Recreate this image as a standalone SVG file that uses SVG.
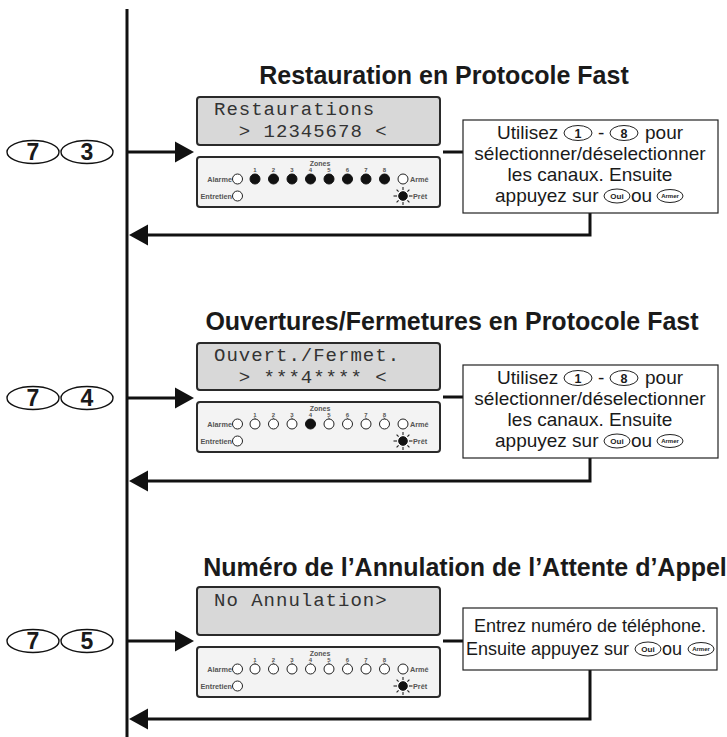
<svg xmlns="http://www.w3.org/2000/svg" xmlns:xlink="http://www.w3.org/1999/xlink" width="727" height="737" viewBox="0 0 727 737">
<style>
.title{font-family:"Liberation Sans",Arial,sans-serif;font-weight:bold;font-size:25px;fill:#1a1a1a;text-anchor:middle}
.key{fill:#fff;stroke:#111;stroke-width:1.4}
.keyt{font-family:"Liberation Sans",Arial,sans-serif;font-weight:bold;font-size:23px;fill:#1a1a1a;text-anchor:middle}
.lcd{fill:#d8d8d8;stroke:#2a2a2a;stroke-width:2}
.lcdt{font-family:"Liberation Mono","DejaVu Sans Mono",monospace;font-size:19px;letter-spacing:1px;fill:#333;white-space:pre}
.pan{fill:#f3f3f3;stroke:#2a2a2a;stroke-width:2}
.pl{font-family:"Liberation Sans",Arial,sans-serif;font-weight:bold;font-size:7.3px;fill:#555}
.pn{font-family:"Liberation Sans",Arial,sans-serif;font-weight:bold;font-size:6px;fill:#555;text-anchor:middle}
.off{fill:#fff;stroke:#222;stroke-width:1}
.on{fill:#111;stroke:#111;stroke-width:1}
.tick{stroke:#333;stroke-width:0.8}
.box{fill:#fff;stroke:#222;stroke-width:1.2}
.bt{font-family:"Liberation Sans",Arial,sans-serif;font-size:19px;fill:#1a1a1a}
.bt3{font-size:18px}
.c{text-anchor:middle}
.ik{fill:#fff;stroke:#222;stroke-width:1}
.ikt{font-family:"Liberation Sans",Arial,sans-serif;font-weight:bold;font-size:12.5px;fill:#1a1a1a;text-anchor:middle}
.ikm{font-family:"Liberation Sans",Arial,sans-serif;font-weight:bold;font-size:8px;fill:#1a1a1a;text-anchor:middle}
.iks{font-family:"Liberation Sans",Arial,sans-serif;font-weight:bold;font-size:6px;fill:#1a1a1a;text-anchor:middle}
.ln{fill:none;stroke:#111;stroke-width:3}
.ah{fill:#111}
</style>
<defs>
<g id="panelbase">
<rect class="pan" x="0" y="0" width="243" height="50" rx="3"/>
<text class="pn" x="123" y="8.5" style="font-size:7px">Zones</text>
<text class="pn" x="58" y="14.5">1</text>
<text class="pn" x="76.5" y="14.5">2</text>
<text class="pn" x="95" y="14.5">3</text>
<text class="pn" x="113.5" y="14.5">4</text>
<text class="pn" x="132" y="14.5">5</text>
<text class="pn" x="150.5" y="14.5">6</text>
<text class="pn" x="169" y="14.5">7</text>
<text class="pn" x="187.5" y="14.5">8</text>
<text class="pl" x="35" y="24.8" text-anchor="end">Alarme</text>
<circle class="off" cx="40.5" cy="22" r="5"/>
<text class="pl" x="35" y="41.8" text-anchor="end">Entretien</text>
<circle class="off" cx="40.5" cy="39" r="5"/>
<circle class="off" cx="206" cy="22" r="5"/>
<text class="pl" x="213" y="24.8">Armé</text>
<circle class="on" cx="206" cy="39" r="4.3"/>
<g stroke="#222" stroke-width="1.1">
<line x1="200" y1="39" x2="196.5" y2="39"/><line x1="212" y1="39" x2="215.5" y2="39"/>
<line x1="206" y1="33" x2="206" y2="30"/><line x1="206" y1="45" x2="206" y2="48"/>
<line x1="201.6" y1="34.6" x2="199.6" y2="32.6"/><line x1="210.4" y1="34.6" x2="212.4" y2="32.6"/>
<line x1="201.6" y1="43.4" x2="199.6" y2="45.4"/><line x1="210.4" y1="43.4" x2="212.4" y2="45.4"/>
</g>
<text class="pl" x="216" y="41.8">Prêt</text>
</g>
<g id="tk"><line class="tick" x1="-0.6" y1="15.5" x2="0.6" y2="17.2"/></g>
</defs>

<g id="connectors">
<line class="ln" x1="127" y1="9" x2="127" y2="737"/>
<line class="ln" x1="127" y1="152" x2="178" y2="152"/>
<polygon class="ah" points="175,141.5 194,152 175,162.5"/>
<line class="ln" x1="443" y1="152" x2="463" y2="152"/>
<polyline class="ln" points="590,213 590,235 146,235"/>
<polygon class="ah" points="148,224.5 129,235 148,245.5"/>

<line class="ln" x1="127" y1="398" x2="178" y2="398"/>
<polygon class="ah" points="175,387.5 194,398 175,408.5"/>
<line class="ln" x1="443" y1="397" x2="463" y2="397"/>
<polyline class="ln" points="590,458 590,481 146,481"/>
<polygon class="ah" points="148,470.5 129,481 148,491.5"/>

<line class="ln" x1="127" y1="641" x2="178" y2="641"/>
<polygon class="ah" points="175,630.5 194,641 175,651.5"/>
<line class="ln" x1="443" y1="641" x2="463" y2="641"/>
<polyline class="ln" points="590,670 590,719 146,719"/>
<polygon class="ah" points="148,708.5 129,719 148,729.5"/>
</g>

<!-- Section 1 -->
<g id="title1"><text class="title" x="444" y="84">Restauration en Protocole Fast</text></g>
<g id="keys73">
<ellipse class="key" cx="33" cy="152" rx="26" ry="11.5"/><text class="keyt" x="33" y="160">7</text>
<ellipse class="key" cx="87" cy="152" rx="26" ry="11.5"/><text class="keyt" x="87" y="160">3</text>
</g>
<g id="lcd1">
<rect class="lcd" x="197" y="97" width="243" height="48" rx="3"/>
<text class="lcdt" x="214" y="115">Restaurations</text>
<text class="lcdt" x="214" y="137">  &gt; 12345678 &lt;</text>
</g>
<g id="panel1" transform="translate(197,157)">
<use xlink:href="#panelbase"/>
<circle class="on" cx="58" cy="22" r="5"/><circle class="on" cx="76.5" cy="22" r="5"/>
<circle class="on" cx="95" cy="22" r="5"/><circle class="on" cx="113.5" cy="22" r="5"/>
<circle class="on" cx="132" cy="22" r="5"/><circle class="on" cx="150.5" cy="22" r="5"/>
<circle class="on" cx="169" cy="22" r="5"/><circle class="on" cx="187.5" cy="22" r="5"/>
</g>
<g id="box1">
<rect class="box" x="463" y="120" width="255" height="93"/>
<text class="bt" x="497" y="139">Utilisez</text>
<ellipse class="ik" cx="578" cy="133" rx="14" ry="7.5"/><text class="ikt" x="578" y="137.5">1</text>
<text class="bt" x="598" y="139">-</text>
<ellipse class="ik" cx="624" cy="133" rx="14" ry="7.5"/><text class="ikt" x="624" y="137.5">8</text>
<text class="bt" x="645" y="139">pour</text>
<text class="bt c" x="590" y="160">sélectionner/déselectionner</text>
<text class="bt c" x="590" y="181">les canaux. Ensuite</text>
<text class="bt" x="495" y="202">appuyez sur</text>
<ellipse class="ik" cx="617" cy="196" rx="13" ry="7"/><text class="ikm" x="617" y="199">Oui</text>
<text class="bt" x="631" y="202">ou</text>
<ellipse class="ik" cx="670" cy="196" rx="13" ry="6.5"/><text class="iks" x="670" y="198">Armer</text>
</g>

<!-- Section 2 -->
<g id="title2"><text class="title" x="452" y="330">Ouvertures/Fermetures en Protocole Fast</text></g>
<g id="keys74">
<ellipse class="key" cx="33" cy="398" rx="26" ry="11.5"/><text class="keyt" x="33" y="406">7</text>
<ellipse class="key" cx="87" cy="398" rx="26" ry="11.5"/><text class="keyt" x="87" y="406">4</text>
</g>
<g id="lcd2">
<rect class="lcd" x="197" y="343" width="243" height="47" rx="3"/>
<text class="lcdt" x="214" y="361">Ouvert./Fermet.</text>
<text class="lcdt" x="214" y="383">  &gt; ***4**** &lt;</text>
</g>
<g id="panel2" transform="translate(197,402)">
<use xlink:href="#panelbase"/>
<circle class="off" cx="58" cy="22" r="5"/><circle class="off" cx="76.5" cy="22" r="5"/>
<circle class="off" cx="95" cy="22" r="5"/><circle class="on" cx="113.5" cy="22" r="5"/>
<circle class="off" cx="132" cy="22" r="5"/><circle class="off" cx="150.5" cy="22" r="5"/>
<circle class="off" cx="169" cy="22" r="5"/><circle class="off" cx="187.5" cy="22" r="5"/>
<use xlink:href="#tk" x="58"/><use xlink:href="#tk" x="76.5"/><use xlink:href="#tk" x="95"/>
<use xlink:href="#tk" x="132"/><use xlink:href="#tk" x="150.5"/><use xlink:href="#tk" x="169"/><use xlink:href="#tk" x="187.5"/>
</g>
<g id="box2">
<rect class="box" x="463" y="365" width="255" height="93"/>
<text class="bt" x="497" y="384">Utilisez</text>
<ellipse class="ik" cx="578" cy="378" rx="14" ry="7.5"/><text class="ikt" x="578" y="382.5">1</text>
<text class="bt" x="598" y="384">-</text>
<ellipse class="ik" cx="624" cy="378" rx="14" ry="7.5"/><text class="ikt" x="624" y="382.5">8</text>
<text class="bt" x="645" y="384">pour</text>
<text class="bt c" x="590" y="405">sélectionner/déselectionner</text>
<text class="bt c" x="590" y="426">les canaux. Ensuite</text>
<text class="bt" x="495" y="447">appuyez sur</text>
<ellipse class="ik" cx="617" cy="441" rx="13" ry="7"/><text class="ikm" x="617" y="444">Oui</text>
<text class="bt" x="631" y="447">ou</text>
<ellipse class="ik" cx="670" cy="441" rx="13" ry="6.5"/><text class="iks" x="670" y="443">Armer</text>
</g>

<!-- Section 3 -->
<g id="title3"><text class="title" x="465" y="576">Numéro de l’Annulation de l’Attente d’Appel</text></g>
<g id="keys75">
<ellipse class="key" cx="33" cy="641" rx="26" ry="11.5"/><text class="keyt" x="33" y="649">7</text>
<ellipse class="key" cx="87" cy="641" rx="26" ry="11.5"/><text class="keyt" x="87" y="649">5</text>
</g>
<g id="lcd3">
<rect class="lcd" x="197" y="587" width="243" height="48" rx="3"/>
<text class="lcdt" x="214" y="606">No Annulation&gt;</text>
</g>
<g id="panel3" transform="translate(197,647)">
<use xlink:href="#panelbase"/>
<circle class="off" cx="58" cy="22" r="5"/><circle class="off" cx="76.5" cy="22" r="5"/>
<circle class="off" cx="95" cy="22" r="5"/><circle class="off" cx="113.5" cy="22" r="5"/>
<circle class="off" cx="132" cy="22" r="5"/><circle class="off" cx="150.5" cy="22" r="5"/>
<circle class="off" cx="169" cy="22" r="5"/><circle class="off" cx="187.5" cy="22" r="5"/>
<use xlink:href="#tk" x="58"/><use xlink:href="#tk" x="76.5"/><use xlink:href="#tk" x="95"/><use xlink:href="#tk" x="113.5"/>
<use xlink:href="#tk" x="132"/><use xlink:href="#tk" x="150.5"/><use xlink:href="#tk" x="169"/><use xlink:href="#tk" x="187.5"/>
</g>
<g id="box3">
<rect class="box" x="463" y="608" width="254" height="62"/>
<text class="bt bt3 c" x="590" y="632">Entrez numéro de téléphone.</text>
<text class="bt bt3" x="466" y="655">Ensuite appuyez sur</text>
<ellipse class="ik" cx="648" cy="649" rx="13" ry="7"/><text class="ikm" x="648" y="652">Oui</text>
<text class="bt bt3" x="662" y="655">ou</text>
<ellipse class="ik" cx="701" cy="649" rx="13" ry="6.5"/><text class="iks" x="701" y="651">Armer</text>
</g>
</svg>
